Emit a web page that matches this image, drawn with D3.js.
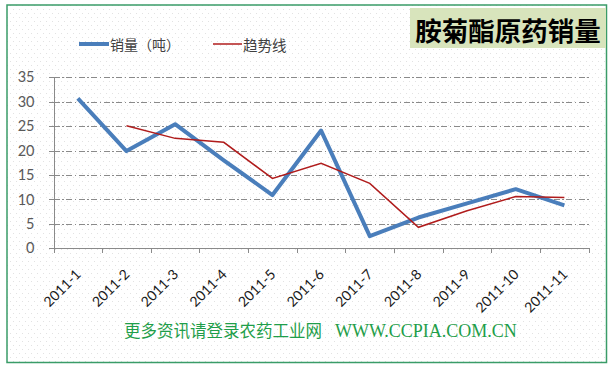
<!DOCTYPE html>
<html>
<head>
<meta charset="utf-8">
<script src="https://cdn.jsdelivr.net/npm/d3@7/dist/d3.min.js"></script>
<style>
  html, body { margin: 0; padding: 0; background: #fff; }
  svg { display: block; }
</style>
</head>
<body>
<svg id="chart" width="614" height="368"></svg>
<script>
// ---- data ----
const categories = ["2011-1","2011-2","2011-3","2011-4","2011-5","2011-6","2011-7","2011-8","2011-9","2011-10","2011-11"];
const salesValues = [30.7, 19.9, 25.4, 18.0, 10.9, 24.1, 2.5, 6.3, 9.2, 12.1, 8.8];
const trendValues = [null, 25.1, 22.5, 21.7, 14.3, 17.4, 13.3, 4.3, 7.7, 10.6, 10.4];
const yTicks = [0, 5, 10, 15, 20, 25, 30, 35];
const seriesNames = ["销量（吨）", "趋势线"];
const titleText = "胺菊酯原药销量";
const footerCn = "更多资讯请登录农药工业网";
const footerUrl = "WWW.CCPIA.COM.CN";

const svg = d3.select("#chart");
const W = 614, H = 368;

// background dotted pattern
const defs = svg.append("defs");
const pat = defs.append("pattern").attr("id", "dots").attr("patternUnits", "userSpaceOnUse")
  .attr("width", 6).attr("height", 8);
pat.append("rect").attr("width", 6).attr("height", 8).attr("fill", "#fff");
pat.append("rect").attr("x", 1).attr("y", 1).attr("width", 1).attr("height", 1).attr("fill", "#e2e2e2");
pat.append("rect").attr("x", 4).attr("y", 5).attr("width", 1).attr("height", 1).attr("fill", "#e2e2e2");

svg.append("rect").attr("width", W).attr("height", H).attr("fill", "#fff");
svg.append("rect").attr("x", 7).attr("y", 5).attr("width", 599.5).attr("height", 357.5)
  .attr("fill", "url(#dots)").attr("stroke", "#3a9c68").attr("stroke-width", 1.5);

// title box
svg.append("rect").attr("x", 410).attr("y", 8).attr("width", 196).attr("height", 40).attr("fill", "#d8e4bc");
svg.append("text").attr("x", 508).attr("y", 29).attr("text-anchor", "middle")
  .attr("dominant-baseline", "central")
  .style("font-family", "'Noto Sans CJK SC', sans-serif").style("font-weight", 700)
  .style("font-size", "26.5px").attr("fill", "#000").text(titleText);

// scales
const x = d3.scaleBand().domain(categories).range([53.5, 588.7]).padding(0);
const xIdx = d3.scaleLinear().domain([0, categories.length]).range([53.5, 588.7]);
const y = d3.scaleLinear().domain([0, 35]).range([248.3, 77.3]);
const cx = d => x(d) + x.bandwidth() / 2;

// gridlines
const grid = svg.append("g").attr("transform", "translate(53.5,0)")
  .call(d3.axisLeft(y).tickValues(yTicks.filter(v => v > 0)).tickSize(-(588.7 - 53.5)).tickFormat(""));
grid.select(".domain").remove();
grid.selectAll("line").attr("stroke", "#8a8a8a").attr("stroke-dasharray", "6,2.5,1.5,2.5").attr("shape-rendering", "crispEdges");

// y axis
const yAxis = svg.append("g").attr("transform", "translate(53.5,0)")
  .call(d3.axisLeft(y).tickValues(yTicks).tickSize(5).tickPadding(14).tickSizeOuter(0));
yAxis.select(".domain").attr("stroke", "#8a8a8a").attr("shape-rendering", "crispEdges");
yAxis.selectAll("line").attr("stroke", "#8a8a8a").attr("shape-rendering", "crispEdges");
yAxis.selectAll("text").style("font-family", "Lato, 'Open Sans', sans-serif").style("font-size", "14.5px").attr("fill", "#595959");

// x axis ticks at band boundaries
const xTickAxis = svg.append("g").attr("transform", "translate(0,248.3)")
  .call(d3.axisBottom(xIdx).tickValues(d3.range(categories.length + 1)).tickSize(5).tickFormat("").tickSizeOuter(0));
xTickAxis.select(".domain").attr("stroke", "#8a8a8a").attr("shape-rendering", "crispEdges");
xTickAxis.selectAll("line").attr("stroke", "#8a8a8a").attr("shape-rendering", "crispEdges");

// x labels
const xLab = svg.append("g").attr("transform", "translate(0,248.3)")
  .call(d3.axisBottom(x).tickSize(0));
xLab.select(".domain").remove();
xLab.selectAll("text")
  .attr("x", 0).attr("y", 0).attr("dy", null)
  .attr("text-anchor", "end")
  .attr("transform", "translate(4,27) rotate(-45)")
  .style("font-family", "Lato, 'Open Sans', sans-serif").style("font-size", "14px").attr("fill", "#1a1a1a");

// lines
const salesLine = d3.line().x((d, i) => cx(categories[i])).y(d => y(d));
svg.append("path").datum(salesValues).attr("d", salesLine)
  .attr("fill", "none").attr("stroke", "#4a7ebb").attr("stroke-width", 4).attr("stroke-linejoin", "round");

const trendLine = d3.line().defined(d => d != null).x((d, i) => cx(categories[i])).y(d => y(d));
svg.append("path").datum(trendValues).attr("d", trendLine)
  .attr("fill", "none").attr("stroke", "#b01c1c").attr("stroke-width", 1.5);

// legend
const leg = svg.append("g");
leg.append("line").attr("x1", 79).attr("x2", 109).attr("y1", 44).attr("y2", 44).attr("stroke", "#4a7ebb").attr("stroke-width", 4);
leg.append("text").attr("x", 110).attr("y", 44).attr("dominant-baseline", "central")
  .style("font-family", "'Noto Sans CJK SC', sans-serif").style("font-size", "14px").attr("fill", "#404040").text(seriesNames[0]);
leg.append("line").attr("x1", 213).attr("x2", 242).attr("y1", 44).attr("y2", 44).attr("stroke", "#b01c1c").attr("stroke-width", 1.5);
leg.append("text").attr("x", 243).attr("y", 44).attr("dominant-baseline", "central")
  .style("font-family", "'Noto Sans CJK SC', sans-serif").style("font-size", "14.5px").attr("fill", "#404040").text(seriesNames[1]);

// footer
const foot = svg.append("text").attr("x", 124).attr("y", 336.5).attr("fill", "#1f9e4a");
foot.append("tspan").style("font-family", "'Noto Sans CJK SC', sans-serif").style("font-size", "16.5px").text(footerCn);
foot.append("tspan").attr("x", 335).style("font-family", "'Liberation Serif', serif").style("font-size", "18px").text(footerUrl);
</script>
</body>
</html>
